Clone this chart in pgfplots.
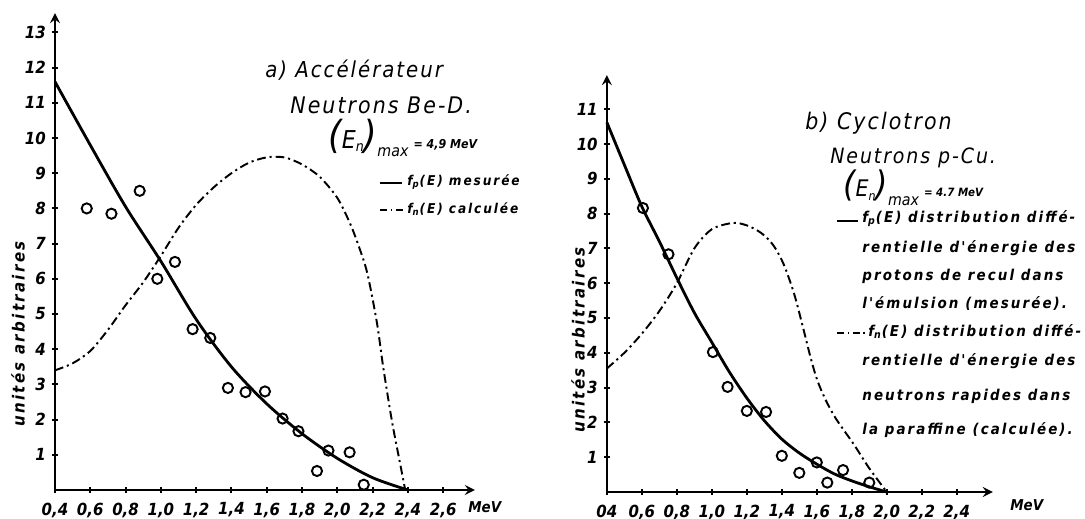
\documentclass[border=0pt]{standalone}
\usepackage{pgfplots}
\pgfplotsset{compat=1.18}
\usepackage{fontspec}
\setmainfont{DejaVu Sans Condensed}
\newfontfamily\lt[LetterSpace=9]{DejaVu Sans Condensed}
\newfontfamily\ltw[LetterSpace=14]{DejaVu Sans Condensed}
\newcommand{\fs}[1]{\fontsize{#1}{#1}\selectfont}
\begin{document}
\begin{tikzpicture}[x=0.02cm,y=0.02cm]
\path[use as bounding box] (0,0) rectangle (1085,519);
\pgfplotsset{
  myaxis/.style={scale only axis, anchor=south west,
    axis x line=bottom, axis y line=left,
    axis line style={line width=1.5pt},
    tick align=center, major tick length=0.12cm,
    every tick/.style={line width=1.1pt, black},
    ticklabel style={font=\fs{9.5}\itshape\bfseries},
    xticklabel style={yshift=-2pt},
    clip=false},
  fp/.style={line width=1.6pt, black, smooth, tension=0.5, no marks},
  fn/.style={line width=1.1pt, black, smooth, tension=0.5, no marks,
    dash pattern=on 5pt off 2.2pt on 1.2pt off 2.2pt},
  pts/.style={only marks, mark=o, mark size=2.9pt, mark options={line width=1.1pt, black}}
}
% ---------------- panel a
\begin{axis}[myaxis, at={(1.1cm,0.58cm)}, width=8.4cm, height=9.54cm,
  xmin=0.4, xmax=2.78, ymin=0, ymax=13.55,
  xtick={0.4,0.6,0.8,1.0,1.2,1.4,1.6,1.8,2.0,2.2,2.4,2.6},
  xticklabels={{0,4},{0,6},{0,8},{1,0},{1,2},{1,4},{1,6},{1,8},{2,0},{2,2},{2,4},{2,6}},
  ytick={1,2,3,4,5,6,7,8,9,10,11,12,13},
  yticklabels={1,2,3,4,5,6,7,8,9,10,11,12,13}]
\addplot[fp] coordinates {(0.4,11.6) (0.6,9.8) (0.8,8.05) (1.0,6.5) (1.2,4.85) (1.4,3.5) (1.6,2.45) (1.8,1.6) (2.0,0.9) (2.2,0.35) (2.4,0)};
\addplot[fn] coordinates {(0.4,3.4) (0.5,3.6) (0.6,3.95) (0.7,4.55) (0.8,5.25) (0.9,5.9) (1.0,6.65) (1.1,7.45) (1.2,8.1) (1.3,8.6) (1.4,9.0) (1.5,9.3) (1.6,9.45) (1.7,9.45) (1.8,9.25) (1.9,8.9) (2.0,8.3) (2.07,7.6) (2.12,6.95) (2.17,6.16) (2.225,4.74) (2.26,3.5) (2.31,1.95) (2.36,0.65) (2.385,0)};
\addplot[pts] coordinates {(0.58,8.0) (0.72,7.85) (0.88,8.5) (0.98,6.0) (1.08,6.48) (1.18,4.57) (1.28,4.32) (1.38,2.9) (1.48,2.78) (1.59,2.8) (1.69,2.03) (1.78,1.67) (1.885,0.54) (1.95,1.12) (2.07,1.07) (2.15,0.15)};
\end{axis}
% ---------------- panel b
\begin{axis}[myaxis, at={(12.14cm,0.54cm)}, width=7.72cm, height=8.34cm,
  xmin=0.4, xmax=2.606, ymin=0, ymax=11.98,
  xtick={0.4,0.6,0.8,1.0,1.2,1.4,1.6,1.8,2.0,2.2,2.4},
  xticklabels={{04},{0,6},{0,8},{1,0},{1,2},{1,4},{1,6},{1,8},{2,0},{2,2},{2,4}},
  ytick={1,2,3,4,5,6,7,8,9,10,11},
  yticklabels={1,2,3,4,5,6,7,8,9,10,11}]
\addplot[fp] coordinates {(0.4,10.62) (0.5,9.4) (0.6,8.2) (0.7,7.2) (0.8,6.15) (0.9,5.15) (1.0,4.3) (1.1,3.45) (1.2,2.7) (1.3,2.05) (1.4,1.52) (1.5,1.12) (1.6,0.8) (1.7,0.52) (1.8,0.32) (1.9,0.15) (2.0,0)};
\addplot[fn] coordinates {(0.4,3.55) (0.5,4.0) (0.6,4.55) (0.7,5.2) (0.8,6.0) (0.9,7.0) (1.0,7.55) (1.12,7.73) (1.2,7.66) (1.28,7.45) (1.35,7.1) (1.41,6.55) (1.47,5.7) (1.52,4.75) (1.56,3.95) (1.6,3.25) (1.65,2.65) (1.71,2.1) (1.81,1.38) (1.9,0.68) (2.0,0)};
\addplot[pts] coordinates {(0.606,8.16) (0.752,6.83) (1.006,4.02) (1.09,3.02) (1.2,2.33) (1.31,2.3) (1.4,1.04) (1.5,0.55) (1.6,0.85) (1.66,0.27) (1.75,0.63) (1.9,0.27)};
\end{axis}
% ---------------- texts (pixel coordinates, y = 519 - py)
\begin{scope}[every node/.style={inner sep=0pt, font=\itshape}]
\node[rotate=90] at (18,185) {\ltw\fs{9.5}\bfseries unités arbitraires};
\node[rotate=90] at (578,179) {\ltw\fs{9.5}\bfseries unités arbitraires};
\node[anchor=west] at (468,12) {\fs{8.5}\bfseries MeV};
\node[anchor=west] at (1010,14) {\fs{8.5}\bfseries MeV};
% panel a
\node[anchor=west] at (265,449) {\lt\fs{12.5}a) Accélérateur};
\node[anchor=west] at (290,414) {\lt\fs{13}Neutrons Be-D.};
\node[anchor=west] at (328,381) {{\fs{22}(}{\fs{14}E\raisebox{-2pt}{\fs{8}n}}{\fs{22})}\raisebox{-5pt}{\fs{9}max} {\fs{7}\bfseries = 4,9 MeV}};
\draw[line width=0.9pt] (380,336) -- (402,336);
\node[anchor=west] at (407,337) {\ltw\fs{7.7}\bfseries f\textsubscript{p}(E) mesurée};
\draw[line width=0.9pt, dash pattern=on 4pt off 2pt on 1pt off 2pt] (380,309) -- (404,309);
\node[anchor=west] at (407,310) {\ltw\fs{7.7}\bfseries f\textsubscript{n}(E) calculée};
% panel b
\node[anchor=west] at (805,396) {\lt\fs{13}b) Cyclotron};
\node[anchor=west] at (830,361) {\lt\fs{12}Neutrons p-Cu.};
\node[anchor=west] at (843,331) {{\fs{20}(}{\fs{13}E\raisebox{-2pt}{\fs{7}n}}{\fs{20})}\raisebox{-5pt}{\fs{9}max} {\fs{6.5}\bfseries = 4.7 MeV}};
\draw[line width=1pt] (837,298) -- (858,298);
\node[anchor=west] at (862,300) {\ltw\fs{8.5}\bfseries f\textsubscript{p}(E) distribution diffé-};
\node[anchor=west] at (862,271) {\ltw\fs{8.5}\bfseries rentielle d'énergie des};
\node[anchor=west] at (862,243) {\ltw\fs{8.5}\bfseries protons de recul dans};
\node[anchor=west] at (862,215) {\ltw\fs{8.5}\bfseries l'émulsion (mesurée).};
\draw[line width=1pt, dash pattern=on 4pt off 2pt on 1pt off 2pt on 4pt off 2pt on 1pt off 2pt] (837,186) -- (866,186);
\node[anchor=west] at (868,187) {\ltw\fs{8.5}\bfseries f\textsubscript{n}(E) distribution diffé-};
\node[anchor=west] at (862,158) {\ltw\fs{8.5}\bfseries rentielle d'énergie des};
\node[anchor=west] at (862,123) {\ltw\fs{8.5}\bfseries neutrons rapides dans};
\node[anchor=west] at (862,89) {\ltw\fs{8.5}\bfseries la paraffine (calculée).};
\end{scope}
\end{tikzpicture}
\end{document}
